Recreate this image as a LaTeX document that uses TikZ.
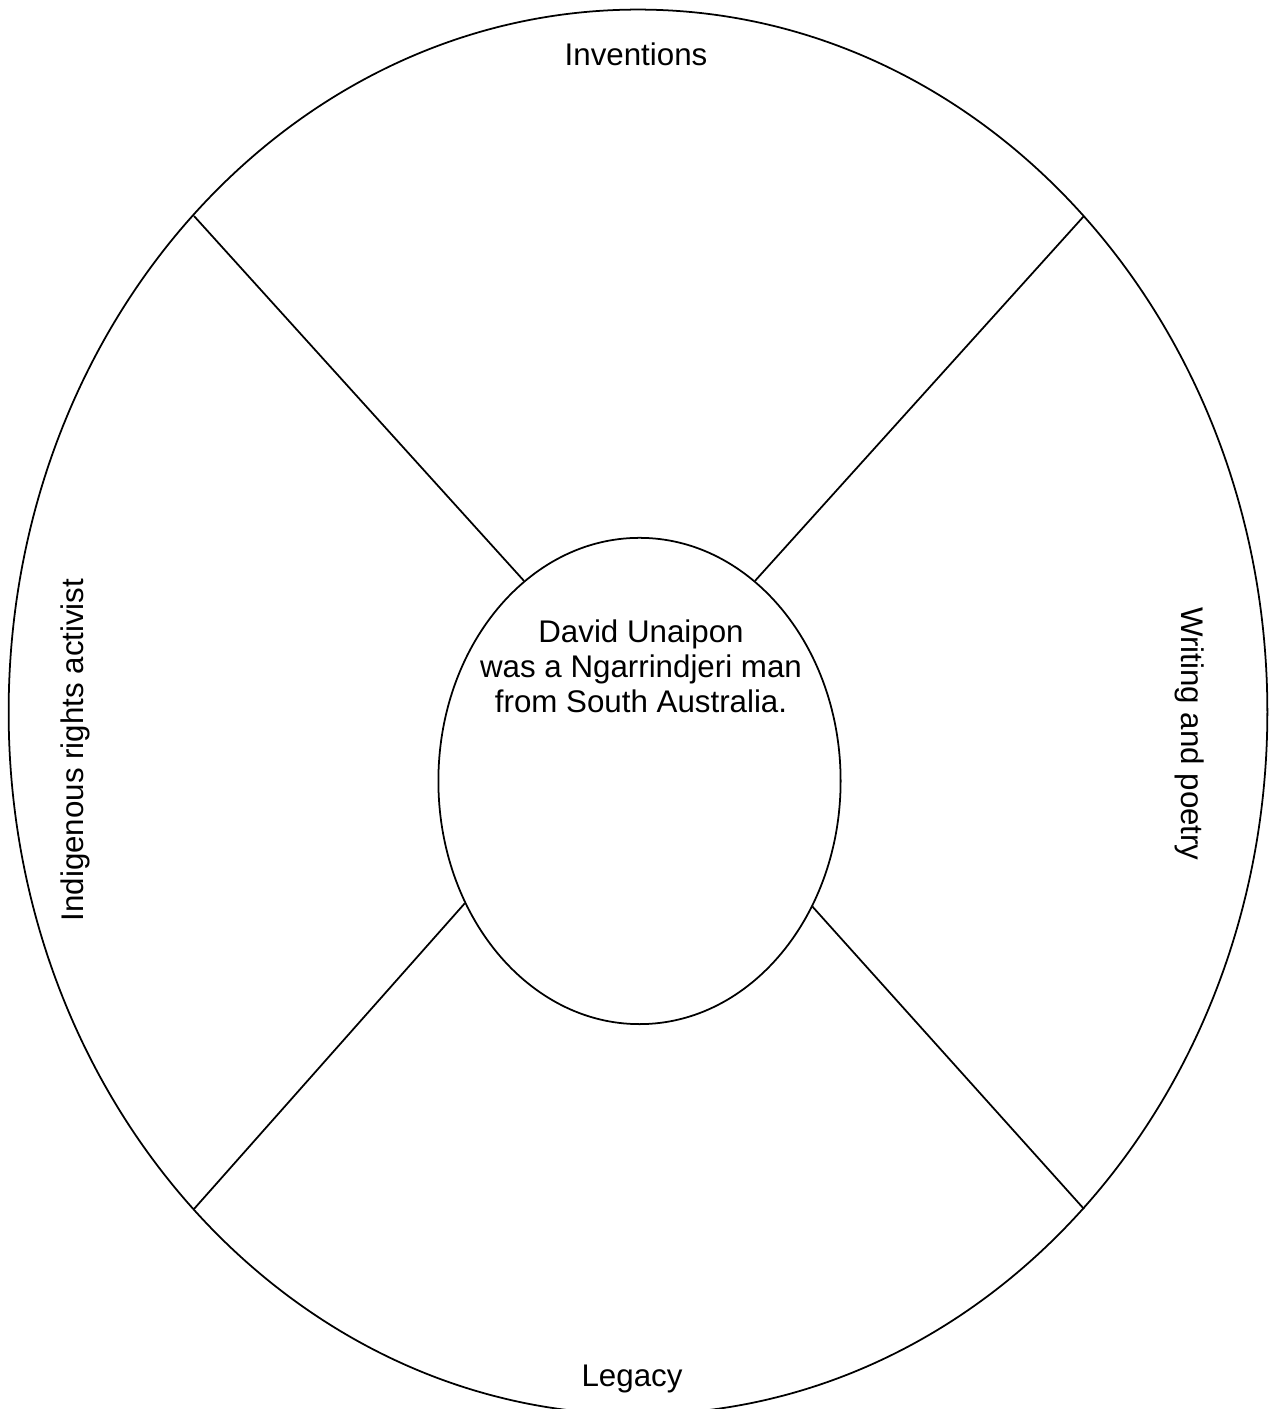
\documentclass[tikz,border=0pt]{standalone}
\usepackage{fontspec}
\setmainfont{Liberation Sans}
\usetikzlibrary{positioning,
                shapes.geometric}            % ellipse shape

\begin{document}
\begin{tikzpicture}[x=0.01cm, y=0.01cm, line width=0.5pt,
                ring/.style={draw, ellipse, inner sep=0pt},
                lbl/.style={font=\fontsize{8.9}{10}\selectfont, inner sep=0pt}]
                \useasboundingbox (0,0) rectangle (1270,1409);

                \node[ring, minimum width=12.58cm, minimum height=14.04cm] (outer) at (638,697) {};
                \node[ring, minimum width=4.02cm, minimum height=4.86cm] (inner) at (639.5,628) {};

                % spoke ends on the outer ring
                \coordinate (tl) at (194,1193);
                \coordinate (tr) at (1084,1193);
                \coordinate (bl) at (194,200);
                \coordinate (br) at (1084,200);

                \draw (tl) -- (inner.120);
                \draw (tr) -- (inner.60.2);
                \draw (bl) -- (inner.215.9);
                \draw (br) -- (inner.324.1);

                \node[lbl] (inventions) at (636,1355) {Inventions};
                \node[lbl] (legacy) at (632,30) {Legacy};
                \node[lbl, rotate=90] (activist) at (75,659) {Indigenous rights activist};
                \node[lbl, rotate=-90] (writing) at (1190,675) {Writing and poetry};
                \node[lbl, align=center] (david) at (641,743) {David Unaipon\\ was a Ngarrindjeri man\\from South Australia.};

        \end{tikzpicture}
\end{document}
